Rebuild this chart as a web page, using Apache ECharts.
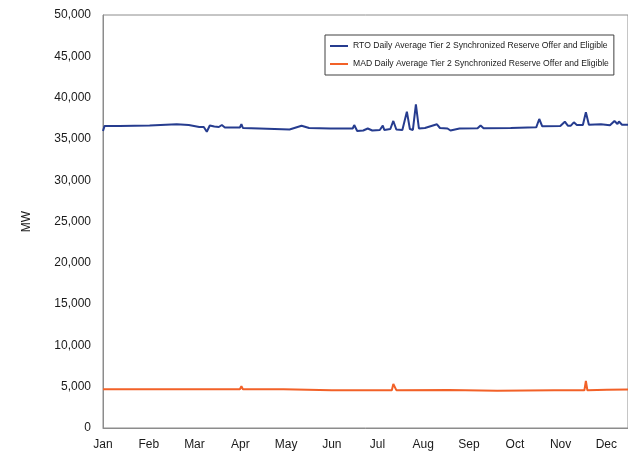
<!DOCTYPE html>
<html>
<head>
<meta charset="utf-8">
<script src="https://cdn.jsdelivr.net/npm/echarts@6/dist/echarts.min.js"></script>
<style>
  html, body { margin: 0; padding: 0; background: #fff; }
  #chart { width: 628px; height: 453px; }
</style>
</head>
<body>
<div id="chart"></div>
<script>
// Month axis labels, spaced evenly across the year (day-of-year positions)
const monthNames = ['Jan', 'Feb', 'Mar', 'Apr', 'May', 'Jun', 'Jul', 'Aug', 'Sep', 'Oct', 'Nov', 'Dec'];
const monthTicks = [0, 30.4, 60.8, 91.3, 121.7, 152.1, 182.5, 212.9, 243.3, 273.8, 304.2, 334.6];

// RTO daily average Tier 2 synchronized reserve offered and eligible (MW)
const rtoDays = [0, 1, 11, 31, 49, 57, 64, 67, 69, 71, 74, 77, 79, 81, 91, 92, 93, 104, 114, 124,
  132, 137, 151, 166, 167, 169, 173, 176, 179, 184, 186, 187, 191, 193, 195, 199, 202, 204, 206, 208,
  210, 214, 222, 224, 229, 231, 237, 249, 251, 253, 271, 288, 290, 292, 304, 307, 309, 311, 313, 315,
  319, 321, 323, 331, 337, 340, 342, 343, 345, 349];
const rtoValues = [35950, 36550, 36560, 36620, 36770, 36680, 36440, 36440, 35870, 36620, 36500, 36440, 36680, 36380, 36380, 36800, 36320, 36260, 36200, 36140,
  36600, 36320, 36260, 36260, 36680, 35960, 36020, 36260, 36020, 36080, 36600, 36080, 36200, 37170, 36140, 36080, 38300, 36200, 36080, 39190,
  36260, 36320, 36770, 36320, 36260, 36020, 36260, 36280, 36620, 36280, 36320, 36400, 37410, 36530, 36560, 37080, 36600, 36600, 37010, 36680,
  36680, 38220, 36720, 36770, 36650, 37170, 36800, 37110, 36720, 36720];

// MAD daily average Tier 2 synchronized reserve offered and eligible (MW)
const madDays = [0, 40, 70, 71, 73, 91, 92, 93, 120, 152, 190, 192, 193, 195, 230, 262, 300, 320, 321, 322, 335, 349];
const madValues = [4680, 4700, 4690, 4880, 4700, 4700, 5050, 4690, 4680, 4560, 4560, 4580, 5330, 4580, 4590, 4500, 4560, 4560, 5690, 4570, 4620, 4650];

// Y-axis range and step
const yMin = 0, yMax = 50000, yStep = 5000;

const pair = (days, vals) => days.map((d, i) => [d, vals[i]]);

const chart = echarts.init(document.getElementById('chart'), null, { renderer: 'canvas' });
const axisGrey = '#8c8c8c';
const textColor = '#1a1a1a';
const font = '"Liberation Sans", Arial, sans-serif';

chart.setOption({
  animation: false,
  backgroundColor: '#ffffff',
  grid: {
    left: 103, top: 15, right: -1, bottom: 25,
    show: true, borderColor: axisGrey, borderWidth: 1, backgroundColor: 'transparent'
  },
  legend: {
    orient: 'vertical',
    left: 325, top: 35,
    padding: [5, 5, 5, 5],
    itemGap: 6,
    itemWidth: 18, itemHeight: 2,
    icon: 'rect',
    borderColor: '#404040', borderWidth: 1,
    textStyle: { fontFamily: font, fontSize: 8.6, color: textColor, lineHeight: 12 },
    data: [
      { name: 'RTO Daily Average Tier 2 Synchronized Reserve Offer and Eligible' },
      { name: 'MAD Daily Average Tier 2 Synchronized Reserve Offer and Eligible' }
    ]
  },
  xAxis: {
    type: 'value',
    min: 0, max: 349,
    axisLine: { show: true, lineStyle: { color: axisGrey, width: 1 } },
    axisTick: { show: false },
    splitLine: { show: false },
    axisLabel: {
      customValues: monthTicks,
      formatter: v => monthNames[monthTicks.indexOf(v)] || '',
      fontFamily: font,
      fontSize: 12, color: textColor, margin: 11
    }
  },
  yAxis: {
    type: 'value',
    min: yMin, max: yMax, interval: yStep,
    name: 'MW',
    nameLocation: 'middle',
    nameGap: 70,
    nameRotate: 90,
    nameTextStyle: { fontFamily: font, fontSize: 12, color: textColor },
    axisLine: { show: true, lineStyle: { color: axisGrey, width: 1 } },
    axisTick: { show: false },
    splitLine: { show: false },
    axisLabel: {
      formatter: v => v.toLocaleString('en-US'),
      fontFamily: font,
      fontSize: 12, color: textColor, margin: 12
    }
  },
  series: [
    {
      name: 'RTO Daily Average Tier 2 Synchronized Reserve Offer and Eligible',
      type: 'line',
      data: pair(rtoDays, rtoValues),
      showSymbol: false,
      color: '#263c8f',
      lineStyle: { width: 2, color: '#263c8f' }
    },
    {
      name: 'MAD Daily Average Tier 2 Synchronized Reserve Offer and Eligible',
      type: 'line',
      data: pair(madDays, madValues),
      showSymbol: false,
      color: '#f26128',
      lineStyle: { width: 2, color: '#f26128' }
    }
  ]
});
</script>
</body>
</html>
